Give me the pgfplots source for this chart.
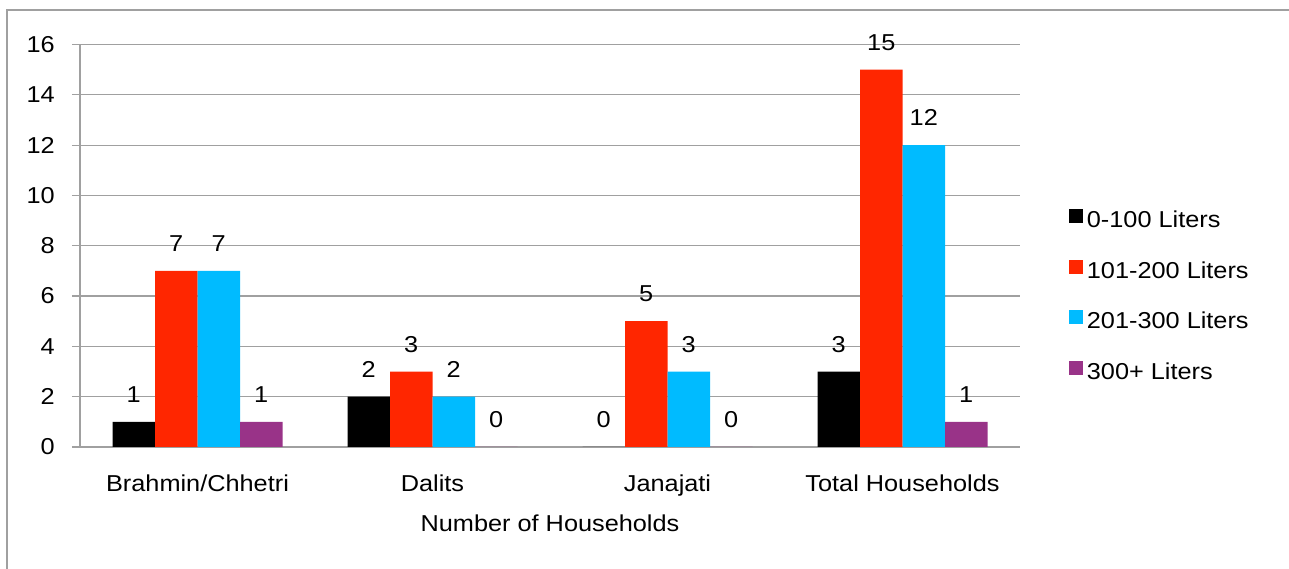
\documentclass[border=0pt]{standalone}
\usepackage{fontspec}
\setmainfont{Liberation Sans}[FakeStretch=1.1]
\usepackage{pgfplots}
\usepackage{pgfplotstable}
\pgfplotsset{compat=1.18}

\definecolor{gridgray}{RGB}{160,160,160}
\definecolor{cblack}{RGB}{0,0,0}
\definecolor{cred}{RGB}{255,38,0}
\definecolor{ccyan}{RGB}{0,187,255}
\definecolor{cpurple}{RGB}{153,51,136}

% Households per daily water use, by caste/ethnic group
\pgfplotstableread{
x  a  b   c   d
0  1  7   7   1
1  2  3   2   0
2  0  5   3   0
3  3  15  12  1
}\households

\newcommand{\chartfont}{\fontsize{23}{27}\selectfont}

\begin{document}
\begin{tikzpicture}[x=1pt,y=1pt]
\useasboundingbox (0,0) rectangle (1289,569);
\draw[gridgray, line width=1.2pt] (7,0) -- (7,559) -- (1289,559);
\begin{axis}[
  at={(80pt,122pt)}, anchor=south west,
  scale only axis, width=940pt, height=402.5pt,
  xmin=-0.5, xmax=3.5, ymin=0, ymax=16,
  ybar=0pt, bar width=42.5pt,
  axis x line*=bottom, axis y line*=left,
  axis line style={-, draw=gridgray, line width=1.2pt},
  ytick={0,2,...,16},
  ymajorgrids,
  major grid style={gridgray, line width=1.2pt},
  y tick style={gridgray, line width=1.2pt},
  tick align=outside, major tick length=8pt,
  xtick={0,1,2,3},
  xticklabels={Brahmin/Chhetri, Dalits, Janajati, Total Households},
  x tick style={draw=none},
  extra x ticks={-0.5,0.5,1.5,2.5,3.5},
  extra x tick labels={},
  extra x tick style={grid=none, tick style={draw=gridgray, line width=1.2pt}},
  /pgf/number format/assume math mode=true,
  ticklabel style={font=\chartfont},
  yticklabel style={anchor=east, inner sep=0pt, xshift=-17pt},
  xticklabel style={anchor=base, inner sep=0pt, yshift=-36pt},
  xlabel={Number of Households},
  xlabel style={at={(axis description cs:0.5,0)}, anchor=base, yshift=-85pt, font=\chartfont},
  nodes near coords,
  every node near coord/.append style={anchor=base, inner sep=0pt, yshift=19.5pt, font=\chartfont, text=black},
  legend image code/.code={\fill[#1,draw=none] (0pt,-4pt) rectangle (14pt,10pt);},
  legend style={at={(1.052,0.591)}, anchor=north west, draw=none, fill=none,
    inner sep=0pt, font=\chartfont, row sep=32pt,
    nodes={inner sep=0pt, text height=17pt, text depth=0pt}},
  legend cell align=left,
]
\addplot[fill=cblack, draw=none] table[x=x, y=a] {\households};
\addplot[fill=cred, draw=none] table[x=x, y=b] {\households};
\addplot[fill=ccyan, draw=none] table[x=x, y=c] {\households};
\addplot[fill=cpurple, draw=none] table[x=x, y=d] {\households};
\legend{\,0-100 Liters, \,101-200 Liters, \,201-300 Liters, \,300+ Liters}
\end{axis}
\end{tikzpicture}
\end{document}
